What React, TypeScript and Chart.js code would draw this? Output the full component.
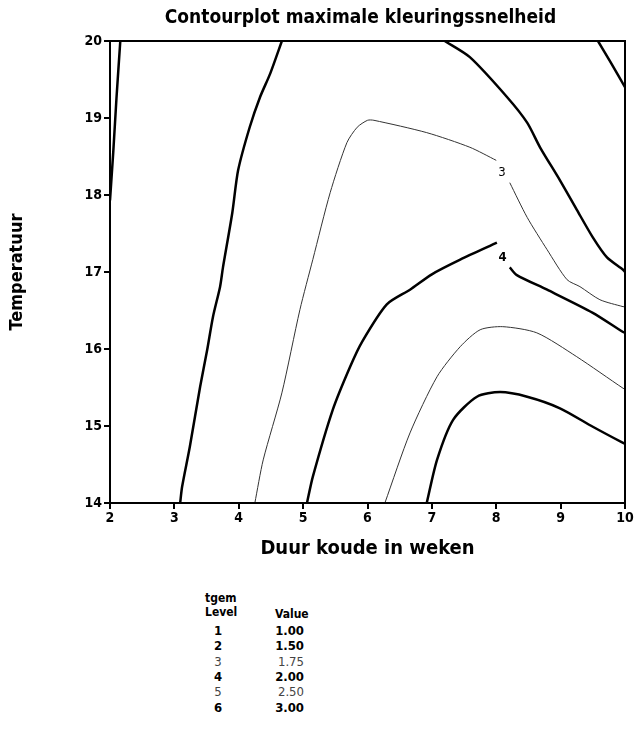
import React, { useEffect, useRef } from "react";
import { Chart, registerables } from "chart.js";

Chart.register(...registerables);

const TITLE = "Contourplot maximale kleuringssnelheid";
const X_TITLE = "Duur koude in weken";
const Y_TITLE = "Temperatuur";
const LEGEND_HEAD_1 = "tgem";
const LEGEND_HEAD_2 = "Level";
const LEGEND_HEAD_3 = "Value";
const LEVELS = ["1", "2", "3", "4", "5", "6"];
const LEVEL_VALUES = ["1.00", "1.50", "1.75", "2.00", "2.50", "3.00"];
const LEVEL_THIN = [false, false, true, false, true, false];

const X_TICKS = [2, 3, 4, 5, 6, 7, 8, 9, 10];
const Y_TICKS = [14, 15, 16, 17, 18, 19, 20];

// contour lines [weeks, temperature]
const contour1Left: [number, number][] = [
  [2.0, 17.93], [2.05, 18.55], [2.1, 19.25], [2.16, 20.0],
];
const contour1Right: [number, number][] = [
  [9.58, 20.0], [9.78, 19.72], [10.0, 19.4],
];
const contour2Left: [number, number][] = [
  [3.09, 14.0], [3.12, 14.21], [3.24, 14.73], [3.4, 15.51], [3.51, 15.99],
  [3.6, 16.42], [3.71, 16.81], [3.755, 17.06], [3.9, 17.77], [3.99, 18.32],
  [4.17, 18.88], [4.33, 19.27], [4.49, 19.58], [4.67, 20.0],
];
const contour2Right: [number, number][] = [
  [7.2, 20.0], [7.59, 19.79], [8.17, 19.27], [8.48, 18.94], [8.68, 18.62],
  [8.99, 18.19], [9.25, 17.81], [9.5, 17.45], [9.72, 17.19], [9.97, 17.03],
  [10.0, 17.0],
];
const contour3a: [number, number][] = [
  [4.25, 14.0], [4.38, 14.56], [4.67, 15.43], [4.95, 16.51], [5.15, 17.16],
  [5.42, 18.03], [5.68, 18.68], [5.84, 18.88], [6.0, 18.97], [6.1, 18.97],
  [6.92, 18.81], [7.59, 18.62], [8.0, 18.45],
];
const contour3b: [number, number][] = [
  [8.21, 18.16], [8.48, 17.71], [8.79, 17.29], [9.1, 16.9], [9.3, 16.81],
  [9.61, 16.64], [9.97, 16.55], [10.0, 16.55],
];
const contour4a: [number, number][] = [
  [5.06, 14.0], [5.15, 14.34], [5.46, 15.21], [5.73, 15.77], [5.92, 16.1],
  [6.3, 16.58], [6.66, 16.77], [7.0, 16.97], [7.44, 17.16], [8.01, 17.38],
];
const contour4b: [number, number][] = [
  [8.21, 17.06], [8.32, 16.96], [8.79, 16.77], [9.5, 16.47], [9.97, 16.22],
  [10.0, 16.21],
];
const contour5: [number, number][] = [
  [6.27, 14.0], [6.66, 14.91], [7.08, 15.64], [7.44, 16.03], [7.75, 16.25],
  [8.1, 16.29], [8.63, 16.21], [9.25, 15.9], [9.97, 15.49], [10.0, 15.48],
];
const contour6: [number, number][] = [
  [6.92, 14.0], [7.08, 14.56], [7.33, 15.08], [7.7, 15.38], [8.06, 15.44],
  [8.48, 15.38], [8.99, 15.23], [9.5, 14.99], [9.97, 14.78], [10.0, 14.77],
];

const LINE_LABELS: { text: string; x: number; y: number; bold: boolean }[] = [
  { text: "3", x: 8.09, y: 18.29, bold: false },
  { text: "4", x: 8.1, y: 17.19, bold: true },
];

const FONT = "'DejaVu Sans Condensed', 'Liberation Sans Narrow', 'Roboto Condensed', Roboto, sans-serif";

const toPts = (arr: [number, number][]) => arr.map(([x, y]) => ({ x, y }));

export default function App() {
  const ref = useRef<HTMLCanvasElement | null>(null);

  useEffect(() => {
    if (!ref.current) return;
    const thick = (d: [number, number][]) => ({
      data: toPts(d),
      showLine: true,
      borderColor: "#000",
      borderWidth: 2.5,
      pointRadius: 0,
      tension: 0.25,
      fill: false,
    });
    const thin = (d: [number, number][]) => ({
      data: toPts(d),
      showLine: true,
      borderColor: "#333",
      borderWidth: 1,
      pointRadius: 0,
      tension: 0.25,
      fill: false,
    });

    const framePlugin = {
      id: "frame",
      afterDraw(chart: any) {
        const { ctx, chartArea } = chart;
        ctx.save();
        ctx.strokeStyle = "#000";
        ctx.lineWidth = 2;
        ctx.strokeRect(chartArea.left, chartArea.top, chartArea.right - chartArea.left, chartArea.bottom - chartArea.top);
        const xs = chart.scales.x;
        const ys = chart.scales.y;
        ctx.fillStyle = "#000";
        ctx.textAlign = "center";
        ctx.textBaseline = "middle";
        ctx.font = `bold 19px ${FONT}`;
        ctx.fillText(TITLE, (chartArea.left + chartArea.right) / 2 - 7, 18);
        for (const l of LINE_LABELS) {
          const px = xs.getPixelForValue(l.x);
          const py = ys.getPixelForValue(l.y);
          ctx.font = `${l.bold ? "bold " : ""}13px ${FONT}`;
          ctx.fillText(l.text, px, py);
        }
        ctx.restore();
      },
    };

    const chart = new Chart(ref.current, {
      type: "scatter",
      data: {
        datasets: [
          thick(contour1Left),
          thick(contour1Right),
          thick(contour2Left),
          thick(contour2Right),
          thin(contour3a),
          thin(contour3b),
          thick(contour4a),
          thick(contour4b),
          thin(contour5),
          thick(contour6),
        ],
      },
      options: {
        animation: false,
        responsive: false,
        maintainAspectRatio: false,
        layout: { padding: { top: 41, right: 10, bottom: 0, left: 0 } },
        plugins: {
          legend: { display: false },
          tooltip: { enabled: false },
          title: { display: false },
        },
        scales: {
          x: {
            type: "linear",
            min: 2,
            max: 10,
            afterBuildTicks: (s: any) => { s.ticks = X_TICKS.map((v) => ({ value: v })); },
            afterFit: (s: any) => { s.height = 67; },
            ticks: { color: "#000", font: { family: FONT, size: 14, weight: "bold" }, padding: 1 },
            grid: { drawOnChartArea: false, drawTicks: true, tickLength: 6, color: "#000", lineWidth: 2 },
            border: { display: true, color: "#000", width: 2 },
            title: {
              display: true,
              text: X_TITLE,
              color: "#000",
              font: { family: FONT, size: 20, weight: "bold" },
              padding: { top: 0, bottom: 9 },
            },
          },
          y: {
            type: "linear",
            min: 14,
            max: 20,
            afterBuildTicks: (s: any) => { s.ticks = Y_TICKS.map((v) => ({ value: v })); },
            afterFit: (s: any) => { s.width = 110; },
            ticks: { color: "#000", font: { family: FONT, size: 14, weight: "bold" }, padding: 2 },
            grid: { drawOnChartArea: false, drawTicks: true, tickLength: 6, color: "#000", lineWidth: 2 },
            border: { display: true, color: "#000", width: 2 },
            title: {
              display: true,
              text: Y_TITLE,
              color: "#000",
              font: { family: FONT, size: 18, weight: "bold" },
              padding: { top: 7, bottom: 0 },
            },
          },
        },
      },
      plugins: [framePlugin],
    } as any);
    return () => chart.destroy();
  }, []);

  const rowTops = [623, 638, 654, 669, 684, 700];
  const base: React.CSSProperties = {
    position: "absolute",
    fontFamily: FONT,
    fontSize: 13,
    lineHeight: "16px",
    color: "#000",
    whiteSpace: "nowrap",
  };

  return (
    <div style={{ position: "absolute", left: 0, top: 0, width: 635, height: 738, background: "#fff" }}>
      <canvas ref={ref} width={635} height={570} style={{ display: "block", width: 635, height: 570 }} />
      <div style={{ ...base, left: 205, top: 590, fontWeight: "bold", fontSize: 12 }}>{LEGEND_HEAD_1}</div>
      <div style={{ ...base, left: 205, top: 604, fontWeight: "bold", fontSize: 12 }}>{LEGEND_HEAD_2}</div>
      <div style={{ ...base, left: 275, top: 606, fontWeight: "bold", fontSize: 12 }}>{LEGEND_HEAD_3}</div>
      {LEVELS.map((lv, i) => (
        <React.Fragment key={lv}>
          <div
            style={{
              ...base,
              left: 208,
              width: 20,
              textAlign: "center",
              top: rowTops[i],
              fontWeight: LEVEL_THIN[i] ? "normal" : "bold",
              color: LEVEL_THIN[i] ? "#444" : "#000",
            }}
          >
            {lv}
          </div>
          <div
            style={{
              ...base,
              left: 254,
              width: 50,
              textAlign: "right",
              top: rowTops[i],
              fontWeight: LEVEL_THIN[i] ? "normal" : "bold",
              color: LEVEL_THIN[i] ? "#444" : "#000",
            }}
          >
            {LEVEL_VALUES[i]}
          </div>
        </React.Fragment>
      ))}
    </div>
  );
}
